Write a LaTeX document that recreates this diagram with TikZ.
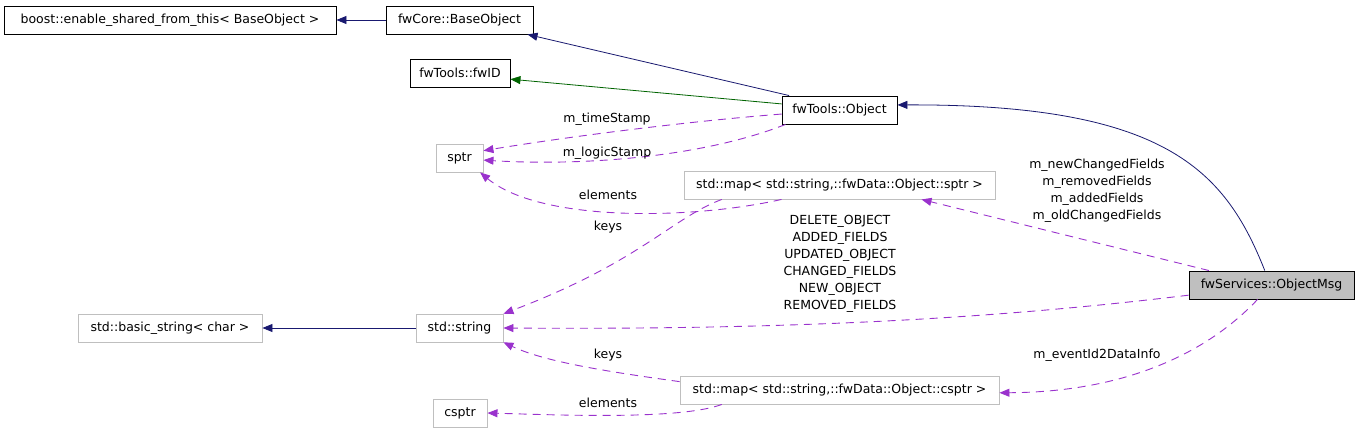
\documentclass[tikz,border=0pt]{standalone}
\usepackage{fontspec}
\setmainfont{DejaVu Sans}
\usetikzlibrary{arrows.meta}
\definecolor{navyc}{HTML}{191970}
\definecolor{greenc}{HTML}{006400}
\definecolor{purplec}{HTML}{9A32CD}
\definecolor{grayc}{HTML}{BFBFBF}
\begin{document}
\begin{tikzpicture}[x=1pt,y=-1pt,
  font=\fontsize{12.5}{17}\selectfont,
  box/.style={draw=black,rectangle,minimum height=28pt,inner sep=0pt,line width=0.9pt},
  gbox/.style={draw=grayc,rectangle,minimum height=28pt,inner sep=0pt,line width=0.9pt},
  tipa/.style={-{Triangle[length=10pt,width=8pt]}},
  inh/.style={draw=navyc,line width=0.8pt,tipa},
  priv/.style={draw=greenc,line width=0.8pt,tipa},
  use/.style={draw=purplec,line width=0.9pt,dash pattern=on 8pt off 6pt,-{Triangle[length=10pt,width=8pt,fill=purplec]}},
  lbl/.style={inner sep=0pt,align=center}]
\path[use as bounding box,fill=white] (0,0) rectangle (1360,433);
% nodes
\node[box,minimum width=332pt] (boost) at (170,20) {boost::enable\_shared\_from\_this< BaseObject >};
\node[box,minimum width=147pt] (base) at (459.5,20) {fwCore::BaseObject};
\node[box,minimum width=100pt] (fwid) at (460,73) {fwTools::fwID};
\node[box,minimum width=115pt] (object) at (839.5,110) {fwTools::Object};
\node[gbox,minimum width=47pt] (sptr) at (459.5,158) {sptr};
\node[gbox,minimum width=311pt] (mapsptr) at (839.5,185) {std::map< std::string,::fwData::Object::sptr >};
\node[box,fill=grayc,minimum width=165pt] (msg) at (1271.5,285) {fwServices::ObjectMsg};
\node[gbox,minimum width=184pt] (basicstr) at (170,328) {std::basic\_string< char >};
\node[gbox,minimum width=87pt] (string) at (459.5,328) {std::string};
\node[gbox,minimum width=319pt] (mapcsptr) at (839.5,390) {std::map< std::string,::fwData::Object::csptr >};
\node[gbox,minimum width=54pt] (csptr) at (460,413) {csptr};
% inheritance
\draw[inh] (base.west) -- (boost.east);
\draw[inh] (object.164) -- (base.-12);
\draw[priv] (object.174) -- (fwid.-7);
\draw[inh] (msg.115) .. controls (1225,170) and (1165,104) .. (object.5);
\draw[inh] (string.west) -- (basicstr.east);
% usage
\draw[use] (object.184) .. controls (680,122) and (560,138) .. (sptr.17);
\draw[use] (object.195) .. controls (700,158) and (580,166) .. (sptr.-5);
\draw[use] (mapsptr.194) .. controls (690,220) and (540,222) .. (sptr.-35);
\draw[use] (mapsptr.187.4) .. controls (672,218) and (640,262) .. (string.18.6);
\draw[use] (msg.167) -- (mapsptr.-10.4);
\draw[use] (msg.187.6) .. controls (1000,318) and (800,330) .. (string.east);
\draw[use] (msg.226) .. controls (1210,350) and (1130,392) .. (mapcsptr.-1);
\draw[use] (mapcsptr.177.5) .. controls (610,372) and (545,362) .. (string.-18.6);
\draw[use] (mapcsptr.187.4) .. controls (680,420) and (560,415) .. (csptr.east);
% labels
\node[lbl] (l1) at (607,119) {m\_timeStamp};
\node[lbl] (l2) at (607,153) {m\_logicStamp};
\node[lbl] (l3) at (608,195) {elements};
\node[lbl] (l4) at (608,227) {keys};
\node[lbl] (l5) at (840,263.5) {DELETE\_OBJECT\\ADDED\_FIELDS\\UPDATED\_OBJECT\\CHANGED\_FIELDS\\NEW\_OBJECT\\REMOVED\_FIELDS};
\node[lbl] (l6) at (1097,191) {m\_newChangedFields\\m\_removedFields\\m\_addedFields\\m\_oldChangedFields};
\node[lbl] (l7) at (608,355) {keys};
\node[lbl] (l8) at (608,403) {elements};
\node[lbl] (l9) at (1097,355) {m\_eventId2DataInfo};
\end{tikzpicture}
\end{document}
